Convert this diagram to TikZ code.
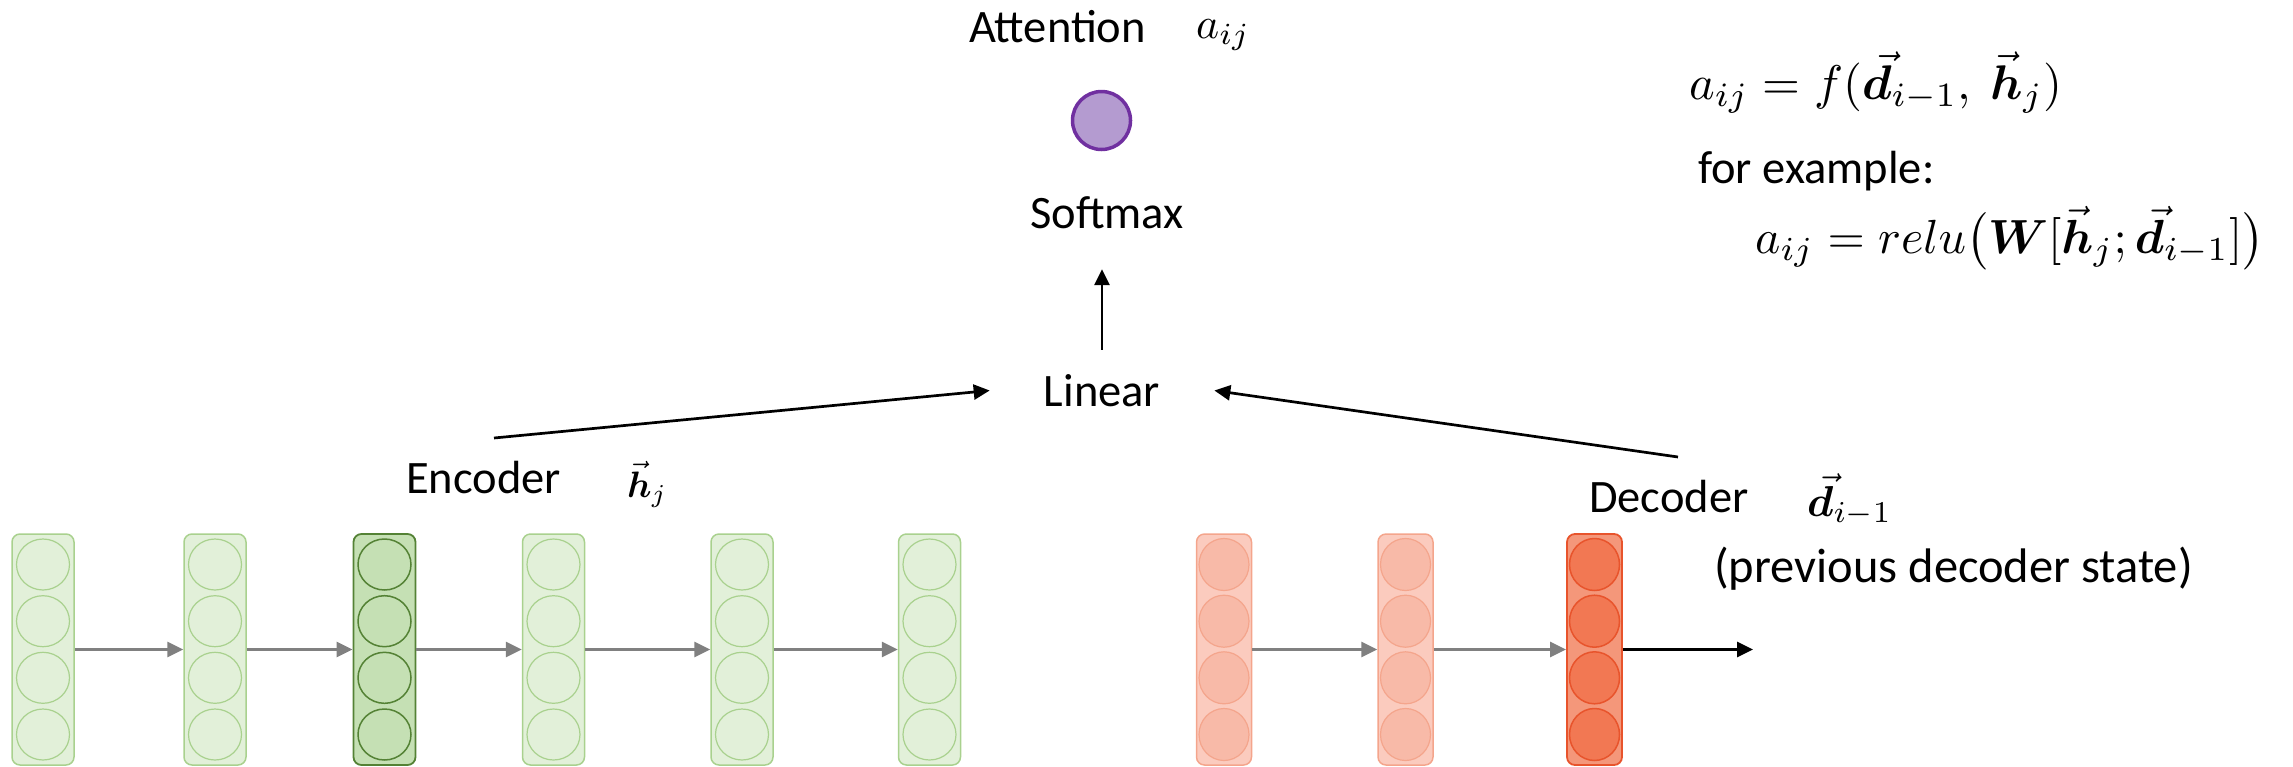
\documentclass[tikz,border=0pt]{standalone}
\usepackage{amsmath,amssymb}
\usepackage{fontspec}
\usepackage{bm}
\setmainfont{Carlito}
\usetikzlibrary{arrows.meta,shapes.geometric}
\definecolor{encfill}{HTML}{E2F0D9}
\definecolor{encborder}{HTML}{A9D18E}
\definecolor{encdfill}{HTML}{C5E0B4}
\definecolor{encdborder}{HTML}{548235}
\definecolor{decfill}{HTML}{FBCBBE}
\definecolor{deccirc}{HTML}{F8BAA8}
\definecolor{decborder}{HTML}{F4A58C}
\definecolor{decdfill}{HTML}{F4977A}
\definecolor{decdcirc}{HTML}{F27853}
\definecolor{decdborder}{HTML}{E8542C}
\definecolor{attfill}{HTML}{B49BD0}
\definecolor{attborder}{HTML}{7030A0}
\definecolor{arrgray}{HTML}{808080}
\newcommand{\vd}{\vec{\bm{d}}}
\newcommand{\vh}{\vec{\bm{h}}}
\begin{document}
\begin{tikzpicture}[x=1pt,y=-1pt,
  lbl/.style={font=\fontsize{46.5}{56}\selectfont, inner sep=0pt, anchor=base west},
  mth/.style={inner sep=0pt, anchor=base west},
  colbase/.style={rounded corners=8pt, inner sep=0pt, minimum height=231pt},
  enccol/.style={colbase, draw=encborder, fill=encfill, line width=1.5pt, minimum width=62pt},
  encdcol/.style={colbase, draw=encdborder, fill=encdfill, line width=1.8pt, minimum width=62pt},
  deccol/.style={colbase, draw=decborder, fill=decfill, line width=1.5pt, minimum width=55pt},
  decdcol/.style={colbase, draw=decdborder, fill=decdfill, line width=1.8pt, minimum width=55pt},
  enccirc/.style={ellipse, inner sep=0pt, minimum width=53pt, minimum height=51pt, draw=encborder, fill=encfill, line width=1.2pt},
  encdcirc/.style={ellipse, inner sep=0pt, minimum width=53pt, minimum height=51pt, draw=encdborder, fill=encdfill, line width=1.5pt},
  deccircle/.style={ellipse, inner sep=0pt, minimum width=50pt, minimum height=52pt, draw=decborder, fill=deccirc, line width=1.2pt},
  decdcircle/.style={ellipse, inner sep=0pt, minimum width=50pt, minimum height=52pt, draw=decdborder, fill=decdcirc, line width=1.5pt},
  grayarr/.style={draw=arrgray, line width=2.8pt, -{Triangle[length=16pt,width=15pt]}},
  blackarr/.style={draw=black, line width=2.7pt, -{Triangle[length=16pt,width=15pt]}},
  attcirc/.style={circle, inner sep=0pt, minimum size=58pt, draw=attborder, fill=attfill, line width=3.5pt}
]
\useasboundingbox (0,0) rectangle (2293,766);
% encoder columns
\foreach \n/\x/\s/\c in {1/43/enccol/enccirc,2/215/enccol/enccirc,3/384.5/encdcol/encdcirc,4/553.5/enccol/enccirc,5/742/enccol/enccirc,6/929.5/enccol/enccirc}{
  \node[\s] (e\n) at (\x,649.5) {};
  \foreach \k/\dy in {1/-85,2/-28.3,3/28.3,4/85}
    \node[\c] (e\n-\k) at (\x,649.5+\dy) {};
}
% decoder columns
\foreach \n/\x/\s/\c in {1/1224/deccol/deccircle,2/1405.5/deccol/deccircle,3/1594.5/decdcol/decdcircle}{
  \node[\s] (d\n) at (\x,649.5) {};
  \foreach \k/\dy in {1/-85,2/-28.3,3/28.3,4/85}
    \node[\c] (d\n-\k) at (\x,649.5+\dy) {};
}
% recurrent arrows
\draw[grayarr] (e1) -- (e2);
\draw[grayarr] (e2) -- (e3);
\draw[grayarr] (e3) -- (e4);
\draw[grayarr] (e4) -- (e5);
\draw[grayarr] (e5) -- (e6);
\draw[grayarr] (d1) -- (d2);
\draw[grayarr] (d2) -- (d3);
\coordinate (decout) at (1753,649.5);
\draw[blackarr] (d3) -- (decout);
% labels
\node[lbl] (att) at (969,42) {Attention};
\node[mth] (attm) at (1196,38) {\resizebox{54pt}{!}{$a_{ij}$}};
\node[attcirc] (attc) at (1101.5,120.5) {};
\node[font=\fontsize{46.5}{56}\selectfont, anchor=base, inner xsep=0pt, inner ysep=41pt, text height=31pt, text depth=0pt] (soft) at (1107,228) {Softmax};
\node[font=\fontsize{46.5}{56}\selectfont, anchor=base, inner xsep=54pt, inner ysep=25pt, text height=31pt, text depth=0pt] (lin) at (1102,406) {Linear};
\node[lbl] (enc) at (406,493) {Encoder};
\node[mth] (hj) at (627,497) {\resizebox{40pt}{!}{$\vh_{j}$}};
\node[lbl] (dec) at (1589,512) {Decoder};
\node[mth] (dim) at (1807,516) {\resizebox{85pt}{!}{$\vd_{i-1}$}};
\node[lbl, font=\fontsize{48.5}{58}\selectfont] (prev) at (1714,582) {(previous decoder state)};
% formulas
\node[mth] (f1) at (1689,99) {\resizebox{373pt}{!}{$a_{ij} = f(\vd_{i-1},\ \vh_{j})$}};
\node[lbl] (fex) at (1698,183) {for example:};
\node[mth] (f2) at (1755,253) {\resizebox{509pt}{!}{$a_{ij} = relu\bigl(\bm{W}[\vh_{j};\vd_{i-1}]\bigr)$}};
% attention connectors
\coordinate (enctail) at (494,438);
\coordinate (dectail) at (1678,457);
\draw[blackarr] (enctail) -- (lin.west);
\draw[blackarr] (dectail) -- (lin.east);
\draw[blackarr] (lin.north) -- (lin.north |- soft.south);
\end{tikzpicture}
\end{document}
